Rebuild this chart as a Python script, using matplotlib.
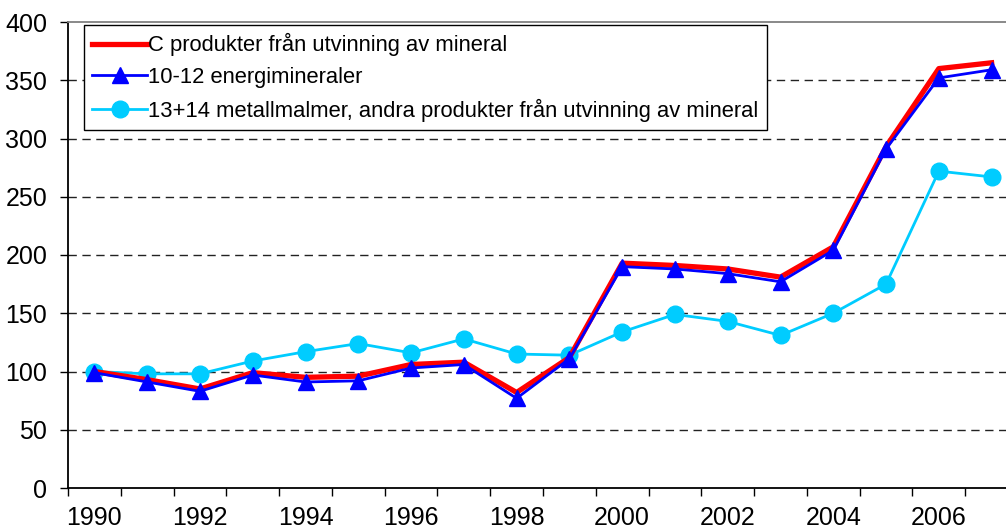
import matplotlib
matplotlib.use("Agg")
import matplotlib.pyplot as plt
from matplotlib.ticker import FixedLocator, NullFormatter

plt.rcParams["font.family"] = ["Liberation Sans", "DejaVu Sans"]

YEARS = list(range(1990, 2008))
C_TOTAL = [100, 93, 85, 99, 95, 96, 106, 108, 82, 112,
           193, 191, 188, 181, 207, 293, 360, 365]
ENERGI = [99, 91, 83, 97, 91, 92, 103, 106, 77, 111,
          190, 188, 184, 177, 204, 291, 352, 359]
METALL = [100, 98, 98, 109, 117, 124, 116, 128, 115, 114,
          134, 149, 143, 131, 150, 175, 272, 267]

LABELS = ["C produkter från utvinning av mineral",
          "10-12 energimineraler",
          "13+14 metallmalmer, andra produkter från utvinning av mineral"]

W, H = 1006, 532
fig = plt.figure(figsize=(W / 100, H / 100), dpi=100)
ax = fig.add_axes([68 / W, 44 / H, 950 / W, 466 / H])

x = list(range(len(YEARS)))
ax.plot(x, C_TOTAL, color="#FF0000", lw=3.8, zorder=3, label=LABELS[0])
ax.plot(x, ENERGI, color="#0000FF", lw=2.0, marker="^", ms=11.5,
        zorder=4, label=LABELS[1])
ax.plot(x, METALL, color="#00CCFF", lw=2.0, marker="o", ms=12,
        zorder=2, label=LABELS[2])

ax.set_ylim(0, 400)
ax.set_xlim(-0.5, len(YEARS) - 0.5)
ax.set_yticks(range(0, 401, 50))
for v in range(50, 400, 50):
    ax.axhline(v, color="#222222", lw=1.0, ls=(0, (6, 4)), zorder=1)

# tick marks between categories, labels under every other year
ax.xaxis.set_major_locator(FixedLocator([i - 0.5 for i in range(len(YEARS) + 1)]))
ax.xaxis.set_major_formatter(NullFormatter())
ax.xaxis.set_minor_locator(FixedLocator(x[::2]))
ax.set_xticklabels([str(y) for y in YEARS[::2]], minor=True)
ax.tick_params(axis="x", which="major", direction="out", length=6, width=1)
ax.tick_params(axis="x", which="minor", length=0, pad=13, labelsize=18)
ax.tick_params(axis="y", direction="out", length=6, width=1, pad=9, labelsize=18)

for s in ["left", "bottom"]:
    ax.spines[s].set_color("#000000")
    ax.spines[s].set_linewidth(1.3)
ax.spines["top"].set_color("#808080")
ax.spines["top"].set_linewidth(1.3)
ax.spines["right"].set_visible(False)

leg = ax.legend(loc="upper left", bbox_to_anchor=(0.0168, 0.9936),
                fontsize=15.8, frameon=True, fancybox=False, framealpha=1,
                edgecolor="#000000", handlelength=2.5, handletextpad=0.05,
                labelspacing=0.48, borderpad=0.38, borderaxespad=0)
leg.get_frame().set_linewidth(1.0)

fig.savefig("out.png", dpi=100)
